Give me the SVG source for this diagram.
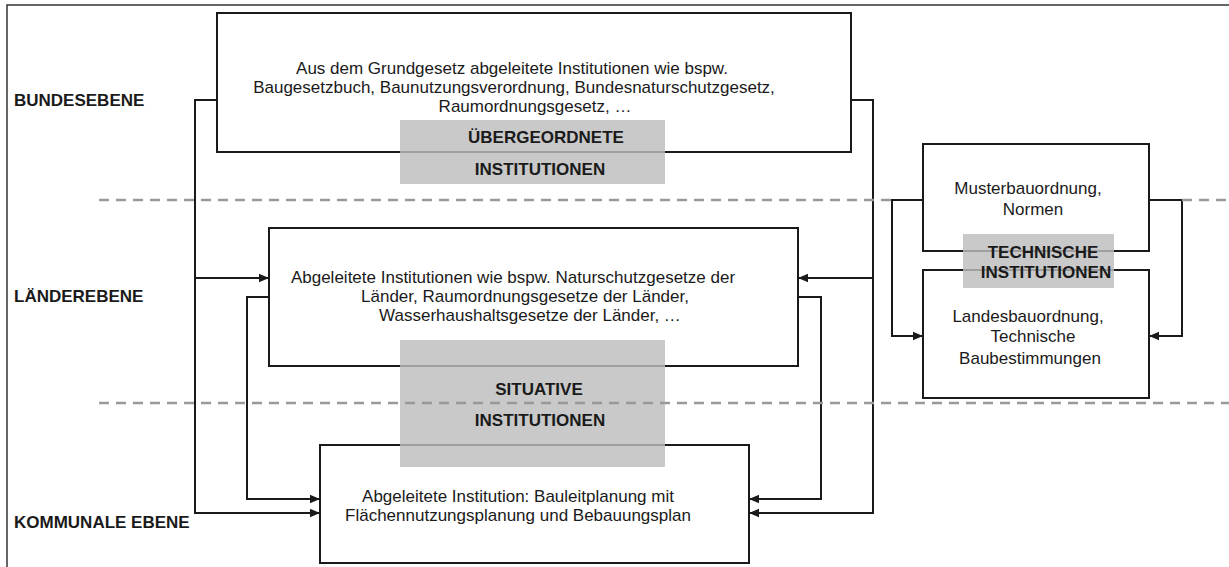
<svg xmlns="http://www.w3.org/2000/svg" width="1229" height="567" viewBox="0 0 1229 567">
  <style>
    .frame { fill: none; stroke: #333; stroke-width: 1.5; }
    .box { fill: #fff; stroke: #1a1a1a; stroke-width: 2; }
    .tag { fill: #bdbdbd; fill-opacity: 0.82; }
    .level { stroke: #999; stroke-width: 2.5; stroke-dasharray: 10 7; fill: none; }
    .wire { fill: none; stroke: #1a1a1a; stroke-width: 2; }
    .arrow { marker-end: url(#head); }
    text { font-family: "Liberation Sans", Arial, sans-serif; fill: #1a1a1a; }
    .body { font-size: 17px; text-anchor: middle; }
    .bold { font-size: 17px; font-weight: bold; }
    .tagtext { font-size: 17px; font-weight: bold; text-anchor: middle; }
  </style>
  <defs>
    <marker id="head" markerUnits="userSpaceOnUse" markerWidth="10" markerHeight="10" viewBox="0 0 10 10" refX="10" refY="5" orient="auto">
      <path d="M0,0.8 L10,5 L0,9.2 Z" fill="#1a1a1a"/>
    </marker>
  </defs>

  <rect width="1229" height="567" fill="#fff"/>

  <!-- outer frame (top and left edges) -->
  <path class="frame" d="M7,567 V5 H1229"/>

  <!-- level labels -->
  <g id="levels">
    <text class="bold" x="14" y="106">BUNDESEBENE</text>
    <text class="bold" x="14" y="302">LÄNDEREBENE</text>
    <text class="bold" x="14" y="528">KOMMUNALE EBENE</text>
  </g>

  <!-- federal level -->
  <g id="bund">
    <rect class="box" x="217" y="13" width="634" height="139"/>
    <text class="body" x="512" y="74">Aus dem Grundgesetz abgeleitete Institutionen wie bspw.</text>
    <text class="body" x="514" y="93">Baugesetzbuch, Baunutzungsverordnung, Bundesnaturschutzgesetz,</text>
    <text class="body" x="535" y="112">Raumordnungsgesetz, …</text>
  </g>

  <!-- state level -->
  <g id="laender">
    <rect class="box" x="269" y="228" width="529" height="138"/>
    <text class="body" x="513" y="283">Abgeleitete Institutionen wie bspw. Naturschutzgesetze der</text>
    <text class="body" x="525" y="302">Länder, Raumordnungsgesetze der Länder,</text>
    <text class="body" x="530" y="321">Wasserhaushaltsgesetze der Länder, …</text>
  </g>

  <!-- municipal level -->
  <g id="kommune">
    <rect class="box" x="320" y="445" width="429" height="118"/>
    <text class="body" x="518" y="502">Abgeleitete Institution: Bauleitplanung mit</text>
    <text class="body" x="518" y="521">Flächennutzungsplanung und Bebauungsplan</text>
  </g>

  <!-- technical rules -->
  <g id="muster">
    <rect class="box" x="923" y="144" width="226" height="107"/>
    <text class="body" x="1028" y="194">Musterbauordnung,</text>
    <text class="body" x="1033" y="215">Normen</text>
  </g>
  <g id="landesbau">
    <rect class="box" x="923" y="270" width="226" height="128"/>
    <text class="body" x="1028" y="322">Landesbauordnung,</text>
    <text class="body" x="1033" y="342">Technische</text>
    <text class="body" x="1030" y="364">Baubestimmungen</text>
  </g>

  <!-- connectors -->
  <g id="connectors">
    <path class="wire arrow" d="M217,100 H195 V513 H320"/>
    <path class="wire arrow" d="M195,278 H269"/>
    <path class="wire arrow" d="M269,297 H247 V499 H320"/>
    <path class="wire arrow" d="M851,100 H873 V513 H749"/>
    <path class="wire arrow" d="M873,278 H798"/>
    <path class="wire arrow" d="M798,297 H821 V499 H749"/>
    <path class="wire arrow" d="M923,200 H892 V336 H923"/>
    <path class="wire arrow" d="M1149,200 H1182 V336 H1149"/>
  </g>

  <!-- category tags -->
  <g id="tag-uebergeordnet">
    <rect class="tag" x="400" y="120" width="265" height="64"/>
    <text class="tagtext" x="546" y="143">ÜBERGEORDNETE</text>
    <text class="tagtext" x="540" y="175">INSTITUTIONEN</text>
  </g>
  <g id="tag-situativ">
    <rect class="tag" x="400" y="340" width="265" height="127"/>
    <text class="tagtext" x="539" y="395">SITUATIVE</text>
    <text class="tagtext" x="540" y="426">INSTITUTIONEN</text>
  </g>
  <g id="tag-technisch">
    <rect class="tag" x="963" y="234" width="151" height="54"/>
    <text class="tagtext" x="1043" y="258">TECHNISCHE</text>
    <text class="tagtext" x="1046" y="278">INSTITUTIONEN</text>
  </g>

  <!-- level separators -->
  <g id="separators">
    <path class="level" d="M99,200 H892 M1182,200 H1229"/>
    <path class="level" d="M99,403 H1229"/>
  </g>
</svg>
